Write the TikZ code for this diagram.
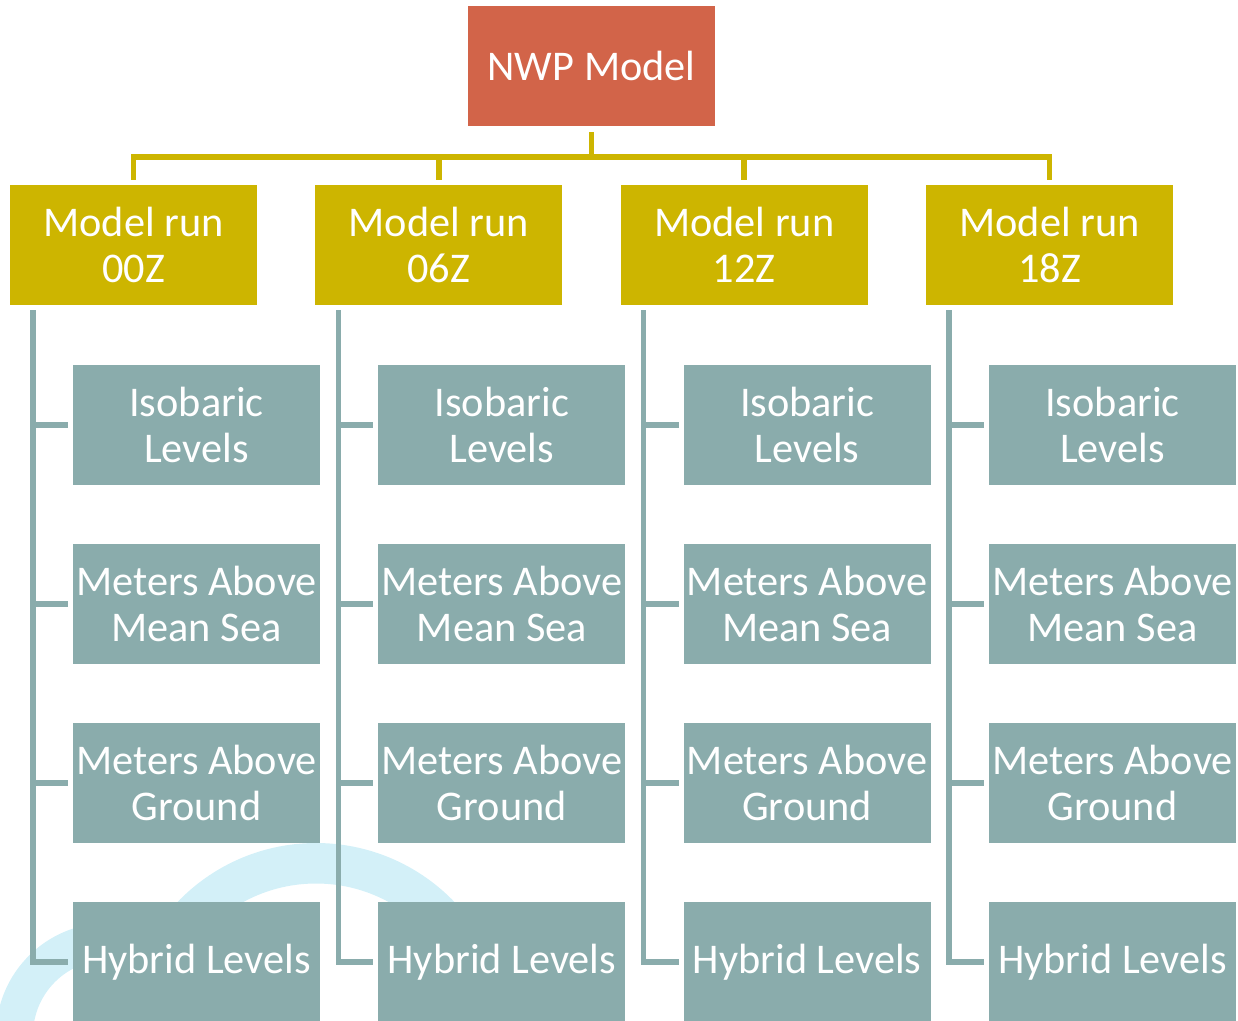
\documentclass[tikz,border=0pt]{standalone}
\usepackage{fontspec}
\setmainfont{Carlito}
\definecolor{nwpred}{HTML}{D26449}
\definecolor{runyel}{HTML}{CDB500}
\definecolor{teal}{HTML}{8AACAC}
\definecolor{wmblue}{HTML}{D3F0F8}
\tikzset{
  box/.style={minimum width=247pt, minimum height=120pt, inner sep=0pt, outer sep=5pt,
    align=center, text=white, font=\fontsize{42.3}{46.5}\selectfont},
  topbox/.style={box, fill=nwpred, outer sep=6pt},
  runbox/.style={box, fill=runyel},
  levbox/.style={box, fill=teal},
  ylink/.style={draw=runyel, line width=5.5pt},
  tlink/.style={draw=teal, line width=5.5pt},
}
\begin{document}
\begin{tikzpicture}[x=1pt, y=-1pt]
\useasboundingbox (0,0) rectangle (1238,1020);
\clip (0,0) rectangle (1238,1020);
% watermark arcs
\fill[wmblue, even odd rule] (316,1035) circle[radius=192pt] (316,1035) circle[radius=151.5pt];
\fill[wmblue, even odd rule] (108,1035) circle[radius=112pt] (108,1035) circle[radius=75pt];
% nodes
\node[topbox] (nwp) at (591.5,66) {NWP Model};
\foreach \i/\lab in {0/00Z,1/06Z,2/12Z,3/18Z}{
  \pgfmathsetmacro{\rx}{133.5+305.33*\i}
  \pgfmathsetmacro{\cx}{\rx+63}
  \node[runbox] (r\i) at (\rx,245) {Model run\\\lab};
  \node[levbox] (a\i) at (\cx,425) {Isobaric\\Levels};
  \node[levbox] (b\i) at (\cx,604) {Meters Above\\Mean Sea};
  \node[levbox] (c\i) at (\cx,783) {Meters Above\\Ground};
  \node[levbox] (d\i) at (\cx,962) {Hybrid Levels};
  \draw[ylink] (nwp.south) -- ++(0,25) -| (r\i.north);
  \draw[tlink] ([xshift=28pt]r\i.south west) |- (d\i.west);
  \draw[tlink] ([xshift=28pt]r\i.south west) |- (a\i.west);
  \draw[tlink] ([xshift=28pt]r\i.south west) |- (b\i.west);
  \draw[tlink] ([xshift=28pt]r\i.south west) |- (c\i.west);
}
\end{tikzpicture}
\end{document}
